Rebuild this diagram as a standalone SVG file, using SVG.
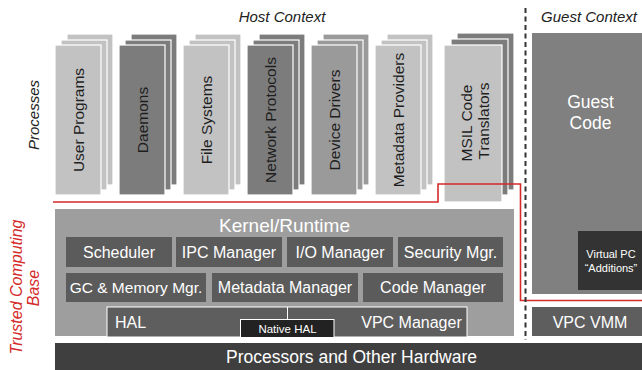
<svg xmlns="http://www.w3.org/2000/svg" width="642" height="370" viewBox="0 0 642 370">
<style>
text{font-family:"Liberation Sans",Arial,sans-serif}
.card{stroke:#ffffff;stroke-width:1.2}
.light{fill:#c2c2c2}
.dark{fill:#7c7c7c}
.mid{fill:#9a9a9a}
.ct{font-size:15.5px;fill:#1e1e1e;text-anchor:middle}
.box{fill:#5b5b5b}
.wt{fill:#ffffff;text-anchor:middle}
.lbl{font-style:italic;font-size:15px;fill:#222;text-anchor:middle}
.red{fill:#d42a2a}
</style>
<rect width="642" height="370" fill="#ffffff"/>
<text class="lbl" x="282" y="22">Host Context</text>
<text class="lbl" x="589" y="22">Guest Context</text>
<text class="lbl" transform="translate(39,115) rotate(-90)">Processes</text>
<g class="lbl red" style="font-size:16px">
<text transform="translate(22,287) rotate(-90)" style="fill:#d42a2a">Trusted Computing</text>
<text transform="translate(39,288) rotate(-90)" style="fill:#d42a2a">Base</text>
</g>
<g id="user-programs">
<rect class="card light" x="67" y="34" width="46" height="151"/>
<rect class="card light" x="61" y="40" width="46" height="150"/>
<rect class="card light" x="55" y="45" width="46" height="150"/>
<text class="ct" transform="translate(83.5,120) rotate(-90)">User Programs</text>
</g>
<g id="daemons">
<rect class="card dark" x="131" y="34" width="46" height="151"/>
<rect class="card dark" x="125" y="40" width="46" height="150"/>
<rect class="card dark" x="119" y="45" width="46" height="150"/>
<text class="ct" transform="translate(147.5,120) rotate(-90)">Daemons</text>
</g>
<g id="file-systems">
<rect class="card light" x="195" y="34" width="46" height="151"/>
<rect class="card light" x="189" y="40" width="46" height="150"/>
<rect class="card light" x="183" y="45" width="46" height="150"/>
<text class="ct" transform="translate(211.5,120) rotate(-90)">File Systems</text>
</g>
<g id="network-protocols">
<rect class="card dark" x="259" y="34" width="46" height="151"/>
<rect class="card dark" x="253" y="40" width="46" height="150"/>
<rect class="card dark" x="247" y="45" width="46" height="150"/>
<text class="ct" transform="translate(275.5,120) rotate(-90)">Network Protocols</text>
</g>
<g id="device-drivers">
<rect class="card mid" x="323" y="34" width="46" height="151"/>
<rect class="card mid" x="317" y="40" width="46" height="150"/>
<rect class="card mid" x="311" y="45" width="46" height="150"/>
<text class="ct" transform="translate(339.5,120) rotate(-90)">Device Drivers</text>
</g>
<g id="metadata-providers">
<rect class="card light" x="387" y="34" width="46" height="151"/>
<rect class="card light" x="381" y="40" width="46" height="150"/>
<rect class="card light" x="375" y="45" width="46" height="150"/>
<text class="ct" transform="translate(403.5,120) rotate(-90)">Metadata Providers</text>
</g>
<g id="msil-code-translators">
<rect class="card dark" x="457" y="33" width="57" height="157"/>
<rect class="card dark" x="451" y="39" width="57" height="156"/>
<rect class="card light" x="444" y="45" width="58" height="157"/>
<text class="ct" transform="translate(472,123) rotate(-90)">MSIL Code</text>
<text class="ct" transform="translate(489,121) rotate(-90)">Translators</text>
</g>
<g id="guest-code">
<rect x="532" y="33" width="112" height="261" fill="#808080"/>
<text class="wt" x="590.5" y="108" style="font-size:17.5px">Guest</text>
<text class="wt" x="590.5" y="129" style="font-size:17.5px">Code</text>
</g>
<g id="virtual-pc-additions">
<rect x="578" y="231" width="66" height="59" fill="#333333"/>
<text class="wt" x="611" y="258" style="font-size:11px">Virtual PC</text>
<text class="wt" x="611" y="272" style="font-size:11px">“Additions”</text>
</g>
<g id="kernel-runtime">
<rect x="55" y="209" width="459" height="127" fill="#9e9e9e"/>
<text class="wt" x="284.5" y="232" style="font-size:19px">Kernel/Runtime</text>
</g>
<g id="scheduler"><rect class="box" x="66" y="237" width="106" height="30"/><text class="wt" x="119" y="258" style="font-size:16px">Scheduler</text></g>
<g id="ipc-manager"><rect class="box" x="176" y="237" width="106" height="30"/><text class="wt" x="229" y="258" style="font-size:16px">IPC Manager</text></g>
<g id="io-manager"><rect class="box" x="287" y="237" width="106" height="30"/><text class="wt" x="340" y="258" style="font-size:16px">I/O Manager</text></g>
<g id="security-mgr"><rect class="box" x="398" y="237" width="105" height="30"/><text class="wt" x="450.5" y="258" style="font-size:16px">Security Mgr.</text></g>
<g id="gc-memory-mgr"><rect class="box" x="66" y="273" width="140" height="29"/><text class="wt" x="136" y="293" style="font-size:15.5px">GC &amp; Memory Mgr.</text></g>
<g id="metadata-manager"><rect class="box" x="212" y="273" width="146" height="29"/><text class="wt" x="285" y="293" style="font-size:16px">Metadata Manager</text></g>
<g id="code-manager"><rect class="box" x="363" y="273" width="140" height="29"/><text class="wt" x="433" y="293" style="font-size:16px">Code Manager</text></g>
<g id="hal">
<rect x="107" y="307" width="360" height="30" fill="#5e5e5e" stroke="#ffffff" stroke-width="1"/>
<text class="wt" x="115" y="328" style="font-size:16px;text-anchor:start">HAL</text>
<text class="wt" x="411.5" y="328" style="font-size:16px">VPC Manager</text>
</g>
<g id="connectors">
<line x1="287.5" y1="307" x2="287.5" y2="319.5" stroke="#ffffff" stroke-width="1"/>
<polyline points="53,202 438,202 438,184 520.5,184 520.5,300.5 642,300.5" fill="none" stroke="#d42a2a" stroke-width="1.6"/>
<line x1="525.5" y1="8" x2="525.5" y2="340" stroke="#333333" stroke-width="2" stroke-dasharray="5,3.5"/>
</g>
<g id="native-hal">
<rect x="240.5" y="319.5" width="93.5" height="18" fill="#222222" stroke="#ffffff" stroke-width="1"/>
<text class="wt" x="287.5" y="333" style="font-size:11.5px">Native HAL</text>
</g>
<g id="vpc-vmm">
<rect x="532" y="307" width="112" height="29" fill="#5e5e5e"/>
<text class="wt" x="590" y="328" style="font-size:16px">VPC VMM</text>
</g>
<g id="processors">
<rect x="55" y="343" width="589" height="28" fill="#3f3f3f"/>
<text class="wt" x="351.5" y="363" style="font-size:17.5px">Processors and Other Hardware</text>
</g>
</svg>
